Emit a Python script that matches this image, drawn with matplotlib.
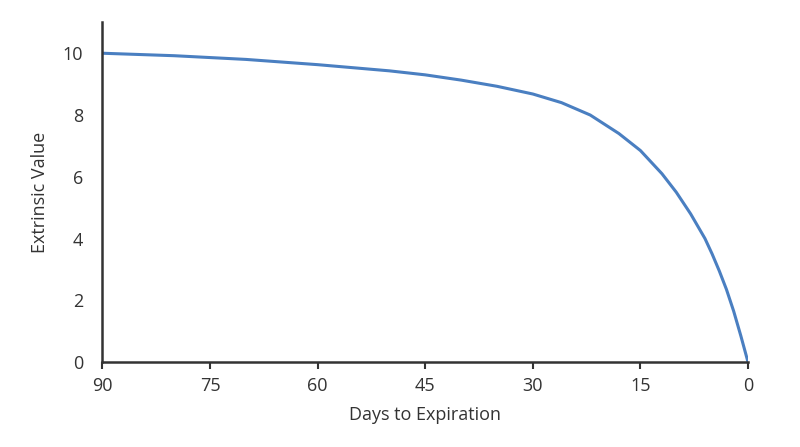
import matplotlib.pyplot as plt

# data
days = [90, 80, 70, 60, 50, 45, 40, 35, 30, 26, 22, 18, 15, 12, 10, 8, 6, 5, 4, 3, 2, 1, 0]
value = [10.0, 9.92, 9.8, 9.63, 9.43, 9.3, 9.13, 8.93, 8.68, 8.4, 8.0, 7.4, 6.85, 6.1, 5.5, 4.8, 4.0, 3.5, 2.95, 2.35, 1.65, 0.85, 0.0]
xticks = [90, 75, 60, 45, 30, 15, 0]
yticks = [0, 2, 4, 6, 8, 10]

plt.rcParams['font.family'] = ['Open Sans', 'DejaVu Sans']
fig, ax = plt.subplots(figsize=(8, 4.47), dpi=100)
fig.subplots_adjust(left=0.128, right=0.935, top=0.95, bottom=0.19)

ax.plot(days, value, color='#4a7fc1', lw=2.2)
ax.set_xlim(90, 0)
ax.set_ylim(0, 11)
ax.set_xticks(xticks)
ax.set_yticks(yticks)
ax.spines['top'].set_visible(False)
ax.spines['right'].set_visible(False)
for s in ['left', 'bottom']:
    ax.spines[s].set_linewidth(1.8)
    ax.spines[s].set_color('#333333')
ax.tick_params(axis='x', length=5, width=1.5, labelsize=13, colors='#333333', pad=6)
ax.tick_params(axis='y', length=0, labelsize=13, colors='#333333', pad=14)
ax.set_xlabel('Days to Expiration', fontsize=13, color='#333333', labelpad=8)
ax.set_ylabel('Extrinsic Value', fontsize=13, color='#333333', labelpad=10)

fig.savefig('out.png')
